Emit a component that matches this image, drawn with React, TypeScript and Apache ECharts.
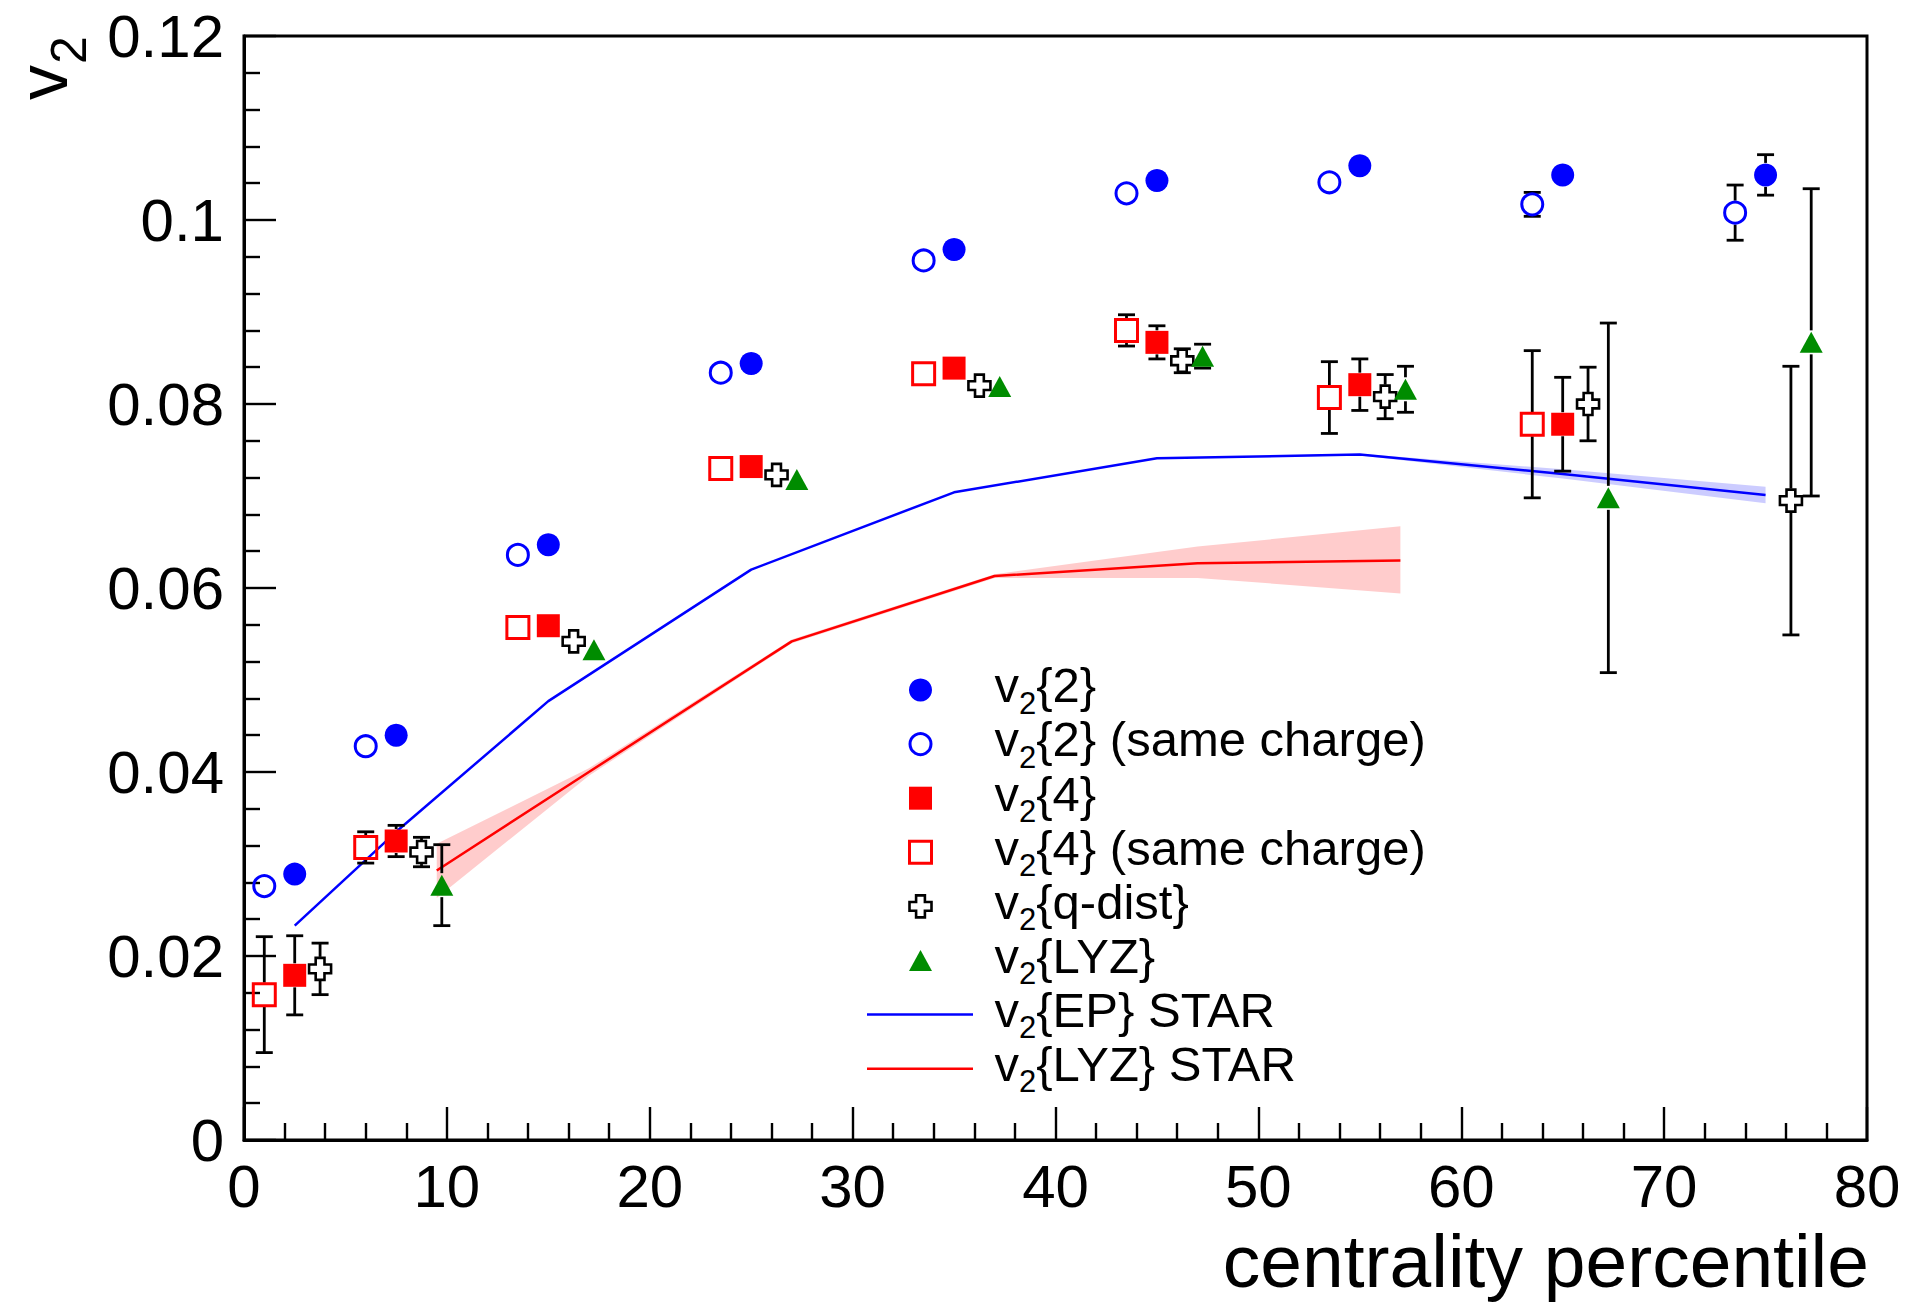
import React, { useEffect, useRef } from 'react';
import * as echarts from 'echarts';

const FONT = "'Liberation Sans', Arial, Helvetica, sans-serif";

// ---------- data ----------
const xTicks = [0, 10, 20, 30, 40, 50, 60, 70, 80];
const yTicks = [0, 0.02, 0.04, 0.06, 0.08, 0.1, 0.12];

// v2{2}
const cent2 = [2.5, 7.5, 15, 25, 35, 45, 55, 65, 75];
const v2two = [0.0289, 0.044, 0.0647, 0.0844, 0.0968, 0.1043, 0.1059, 0.1049, 0.1049];
const v2twoErr = [0, 0, 0, 0, 0, 0, 0, 0, 0.0022];
// v2{2} same charge
const centSame = [1, 6, 13.5, 23.5, 33.5, 43.5, 53.5, 63.5, 73.5];
const v2twoSame = [0.0276, 0.0428, 0.0636, 0.0834, 0.0956, 0.1029, 0.1041, 0.1017, 0.1008];
const v2twoSameErr = [0, 0, 0, 0, 0, 0, 0, 0.0013, 0.003];
// v2{4}
const cent4 = [2.5, 7.5, 15, 25, 35, 45, 55, 65];
const v2four = [0.0179, 0.0325, 0.0559, 0.0732, 0.0839, 0.0867, 0.0821, 0.0778];
const v2fourErr = [0.0043, 0.0017, 0, 0, 0, 0.0018, 0.0028, 0.0051];
// v2{4} same charge
const cent4Same = [1, 6, 13.5, 23.5, 33.5, 43.5, 53.5, 63.5];
const v2fourSame = [0.0158, 0.0318, 0.0557, 0.073, 0.0833, 0.088, 0.0807, 0.0778];
const v2fourSameErr = [0.0063, 0.0017, 0, 0, 0, 0.0017, 0.0039, 0.008];
// v2{q-dist}
const centQ = [3.75, 8.75, 16.25, 26.25, 36.25, 46.25, 56.25, 66.25, 76.25];
const v2q = [0.0186, 0.0313, 0.0542, 0.0723, 0.082, 0.0847, 0.0808, 0.08, 0.0695];
const v2qErr = [0.0028, 0.0016, 0, 0, 0, 0.0013, 0.0024, 0.004, 0.0146];
// v2{LYZ}
const centLYZ = [9.75, 17.25, 27.25, 37.25, 47.25, 57.25, 67.25, 77.25];
const v2lyz = [0.0277, 0.0533, 0.0718, 0.0819, 0.0852, 0.0816, 0.0698, 0.0867];
const v2lyzErr = [0.0044, 0, 0, 0, 0.0013, 0.0025, 0.019, 0.0167];
// v2{EP} STAR
const centEP = [2.5, 7.5, 15, 25, 35, 45, 55, 65, 75];
const v2ep = [0.0233, 0.0335, 0.0477, 0.062, 0.0704, 0.0741, 0.0745, 0.0724, 0.0701];
const v2epLow = [0.0233, 0.0335, 0.0477, 0.062, 0.0704, 0.0741, 0.0744, 0.0719, 0.0692];
const v2epHigh = [0.0233, 0.0335, 0.0477, 0.062, 0.0704, 0.0741, 0.0746, 0.0729, 0.071];
// v2{LYZ} STAR
const centLYZStar = [9.5, 17, 27, 37, 47, 57];
const v2lyzStar = [0.0293, 0.04, 0.0542, 0.0613, 0.0627, 0.063];
const v2lyzStarLow = [0.0263, 0.0396, 0.054, 0.0611, 0.0611, 0.0594];
const v2lyzStarHigh = [0.0322, 0.0404, 0.0544, 0.0615, 0.0645, 0.0667];

const legendLabels = [
  '{2}',
  '{2} (same charge)',
  '{4}',
  '{4} (same charge)',
  '{q-dist}',
  '{LYZ}',
  '{EP} STAR',
  '{LYZ} STAR',
];

// ---------- styling ----------
const BLUE = '#0000ff';
const RED = '#ff0000';
const GREEN = '#008c00';
const PINK = 'rgba(255,0,0,0.2)';
const LIGHTBLUE = 'rgba(0,0,255,0.2)';
const CROSS_PATH = 'path://M7.5,0 H17.5 V7.5 H25 V17.5 H17.5 V25 H7.5 V17.5 H0 V7.5 H7.5 Z';

const pts = (xs: number[], ys: number[]) => ys.map((y, i) => [xs[i], y]);
const trip = (xs: number[], ys: number[], es: number[]) => ys.map((y, i) => [xs[i], y, es[i]]);

function errorBars(name: string, xs: number[], ys: number[], es: number[]) {
  return {
    type: 'custom',
    name,
    silent: true,
    z: 3,
    data: trip(xs, ys, es),
    encode: { x: 0, y: 1 },
    renderItem: (params: any, api: any) => {
      const x = api.value(0);
      const y = api.value(1);
      const e = api.value(2);
      if (!e) return null;
      const c = api.coord([x, y]);
      const t = api.coord([x, y + e]);
      const b = api.coord([x, y - e]);
      const h = 12;
      const cw = 8.5;
      const style = { stroke: '#000', lineWidth: 2.8 };
      const children: any[] = [];
      if (t[1] < c[1] - h) children.push({ type: 'line', shape: { x1: c[0], y1: t[1], x2: c[0], y2: c[1] - h }, style });
      if (b[1] > c[1] + h) children.push({ type: 'line', shape: { x1: c[0], y1: c[1] + h, x2: c[0], y2: b[1] }, style });
      children.push({ type: 'line', shape: { x1: c[0] - cw, y1: t[1], x2: c[0] + cw, y2: t[1] }, style });
      children.push({ type: 'line', shape: { x1: c[0] - cw, y1: b[1], x2: c[0] + cw, y2: b[1] }, style });
      return { type: 'group', children };
    },
  };
}

function band(name: string, xs: number[], lo: number[], hi: number[], color: string) {
  return {
    type: 'custom',
    name,
    silent: true,
    z: 1,
    data: xs.map((x, i) => [x, lo[i], hi[i]]),
    encode: { x: 0, y: [1, 2] },
    renderItem: (params: any, api: any) => {
      if (params.dataIndex !== 0) return null;
      const top = xs.map((x, i) => api.coord([x, hi[i]]));
      const bot = xs.map((x, i) => api.coord([x, lo[i]])).reverse();
      return { type: 'polygon', shape: { points: top.concat(bot) }, style: { fill: color } };
    },
  };
}

function legendGraphics() {
  const els: any[] = [];
  const mx = 920.5;
  const y0 = 690;
  const step = 54.1;
  const tx = 994.5;
  const fMain = 49;
  const fSub = 31;
  legendLabels.forEach((lab, i) => {
    const cy = y0 + i * step;
    if (i === 0) els.push({ type: 'circle', shape: { cx: mx, cy, r: 11.5 }, style: { fill: BLUE } });
    if (i === 1) els.push({ type: 'circle', shape: { cx: mx, cy, r: 10.5 }, style: { fill: 'none', stroke: BLUE, lineWidth: 3 } });
    if (i === 2) els.push({ type: 'rect', shape: { x: mx - 11.5, y: cy - 11.5, width: 23, height: 23 }, style: { fill: RED } });
    if (i === 3) els.push({ type: 'rect', shape: { x: mx - 11, y: cy - 11, width: 22, height: 22 }, style: { fill: 'none', stroke: RED, lineWidth: 3 } });
    if (i === 4) {
      const s = 11, a = 4.4;
      const p = [[-a, -s], [a, -s], [a, -a], [s, -a], [s, a], [a, a], [a, s], [-a, s], [-a, a], [-s, a], [-s, -a], [-a, -a]].map(
        ([dx, dy]) => [mx + dx, cy + dy]
      );
      els.push({ type: 'polygon', shape: { points: p }, style: { fill: '#fff', stroke: '#000', lineWidth: 2.6 } });
    }
    if (i === 5)
      els.push({ type: 'polygon', shape: { points: [[mx, cy - 10.5], [mx - 11.5, cy + 10.5], [mx + 11.5, cy + 10.5]] }, style: { fill: GREEN } });
    if (i === 6) els.push({ type: 'line', shape: { x1: 867, y1: cy, x2: 973, y2: cy }, style: { stroke: BLUE, lineWidth: 2.5 } });
    if (i === 7) els.push({ type: 'line', shape: { x1: 867, y1: cy, x2: 973, y2: cy }, style: { stroke: RED, lineWidth: 2.5 } });

    const mainY = cy + 12.3 - 0.3467 * fMain;
    const subY = cy + 24 - 0.3467 * fSub;
    const common = { fill: '#000', fontFamily: FONT, textAlign: 'left', align: 'left', textVerticalAlign: 'middle', verticalAlign: 'middle' };
    els.push({ type: 'text', x: tx, y: mainY, style: { ...common, text: 'v', fontSize: fMain } });
    els.push({ type: 'text', x: tx + 0.5 * fMain, y: subY, style: { ...common, text: '2', fontSize: fSub } });
    els.push({ type: 'text', x: tx + 0.5 * fMain + 0.556 * fSub, y: mainY, style: { ...common, text: lab, fontSize: fMain } });
  });
  return els;
}

function buildOption() {
  const common = { fill: '#000', fontFamily: FONT, textVerticalAlign: 'middle', verticalAlign: 'middle' };
  return {
    animation: false,
    backgroundColor: '#ffffff',
    grid: {
      left: 244,
      top: 36,
      right: 46,
      bottom: 164,
      show: true,
      borderColor: '#000',
      borderWidth: 3,
      backgroundColor: 'rgba(0,0,0,0)',
      containLabel: false,
      outerBoundsMode: 'none',
    },
    xAxis: {
      type: 'value',
      min: xTicks[0],
      max: xTicks[xTicks.length - 1],
      interval: xTicks[1] - xTicks[0],
      axisLine: { show: true, onZero: false, lineStyle: { color: '#000', width: 3 } },
      axisTick: { show: true, inside: true, length: 33, lineStyle: { color: '#000', width: 2.4 } },
      minorTick: { show: true, splitNumber: 5, length: 17, lineStyle: { color: '#000', width: 2.4 } },
      splitLine: { show: false },
      minorSplitLine: { show: false },
      axisLabel: { show: true, color: '#000', fontSize: 60, fontFamily: FONT, margin: 16, showMinLabel: true, showMaxLabel: true },
    },
    yAxis: {
      type: 'value',
      min: yTicks[0],
      max: yTicks[yTicks.length - 1],
      interval: yTicks[1] - yTicks[0],
      axisLine: { show: true, onZero: false, lineStyle: { color: '#000', width: 3 } },
      axisTick: { show: true, inside: true, length: 32, lineStyle: { color: '#000', width: 2.4 } },
      minorTick: { show: true, splitNumber: 5, length: 16, lineStyle: { color: '#000', width: 2.4 } },
      splitLine: { show: false },
      minorSplitLine: { show: false },
      axisLabel: { show: true, color: '#000', fontSize: 60, fontFamily: FONT, margin: 20, showMinLabel: true, showMaxLabel: true },
    },
    graphic: [
      {
        type: 'text',
        x: 1869,
        y: 1287 - 0.3467 * 75,
        style: { ...common, text: 'centrality percentile', fontSize: 75, textAlign: 'right', align: 'right' },
      },
      {
        type: 'group',
        x: 67,
        y: 100,
        rotation: Math.PI / 2,
        children: [
          { type: 'text', x: 0, y: -0.3467 * 70, style: { ...common, text: 'v', fontSize: 70, textAlign: 'left', align: 'left' } },
          { type: 'text', x: 36, y: 19 - 0.3467 * 50, style: { ...common, text: '2', fontSize: 50, textAlign: 'left', align: 'left' } },
        ],
      },
      ...legendGraphics(),
    ],
    series: [
      band('v2{LYZ} STAR band', centLYZStar, v2lyzStarLow, v2lyzStarHigh, PINK),
      band('v2{EP} STAR band', centEP, v2epLow, v2epHigh, LIGHTBLUE),
      {
        type: 'line',
        name: 'v2{EP} STAR',
        data: pts(centEP, v2ep),
        symbol: 'none',
        showSymbol: false,
        z: 2,
        lineStyle: { color: BLUE, width: 2.5 },
        itemStyle: { color: BLUE },
      },
      {
        type: 'line',
        name: 'v2{LYZ} STAR',
        data: pts(centLYZStar, v2lyzStar),
        symbol: 'none',
        showSymbol: false,
        z: 2,
        lineStyle: { color: RED, width: 2.5 },
        itemStyle: { color: RED },
      },
      errorBars('err v2{2}', cent2, v2two, v2twoErr),
      errorBars('err v2{2} same', centSame, v2twoSame, v2twoSameErr),
      errorBars('err v2{4}', cent4, v2four, v2fourErr),
      errorBars('err v2{4} same', cent4Same, v2fourSame, v2fourSameErr),
      errorBars('err v2{q-dist}', centQ, v2q, v2qErr),
      errorBars('err v2{LYZ}', centLYZ, v2lyz, v2lyzErr),
      {
        type: 'scatter',
        name: 'v2{2}',
        data: pts(cent2, v2two),
        symbol: 'circle',
        symbolSize: 23,
        z: 4,
        itemStyle: { color: BLUE, opacity: 1 },
      },
      {
        type: 'scatter',
        name: 'v2{2} (same charge)',
        data: pts(centSame, v2twoSame),
        symbol: 'circle',
        symbolSize: 21,
        z: 4,
        itemStyle: { color: 'rgba(0,0,0,0)', borderColor: BLUE, borderWidth: 3, opacity: 1 },
      },
      {
        type: 'scatter',
        name: 'v2{4}',
        data: pts(cent4, v2four),
        symbol: 'rect',
        symbolSize: 23,
        z: 4,
        itemStyle: { color: RED, opacity: 1 },
      },
      {
        type: 'scatter',
        name: 'v2{4} (same charge)',
        data: pts(cent4Same, v2fourSame),
        symbol: 'rect',
        symbolSize: 22,
        z: 4,
        itemStyle: { color: 'rgba(0,0,0,0)', borderColor: RED, borderWidth: 3, opacity: 1 },
      },
      {
        type: 'scatter',
        name: 'v2{q-dist}',
        data: pts(centQ, v2q),
        symbol: CROSS_PATH,
        symbolSize: 22,
        z: 4,
        itemStyle: { color: 'rgba(0,0,0,0)', borderColor: '#000', borderWidth: 2.6, opacity: 1 },
      },
      {
        type: 'scatter',
        name: 'v2{LYZ}',
        data: pts(centLYZ, v2lyz),
        symbol: 'triangle',
        symbolSize: [23, 21],
        z: 4,
        itemStyle: { color: GREEN, opacity: 1 },
      },
    ],
  };
}

export default function App() {
  const ref = useRef<HTMLDivElement>(null);
  useEffect(() => {
    if (!ref.current) return;
    const chart = echarts.init(ref.current, null, { renderer: 'svg' });
    chart.setOption(buildOption() as any);
    return () => {
      chart.dispose();
    };
  }, []);
  return (
    <div
      ref={ref}
      style={{ position: 'absolute', left: 0, top: 0, width: 1913, height: 1304, background: '#ffffff' }}
    />
  );
}
